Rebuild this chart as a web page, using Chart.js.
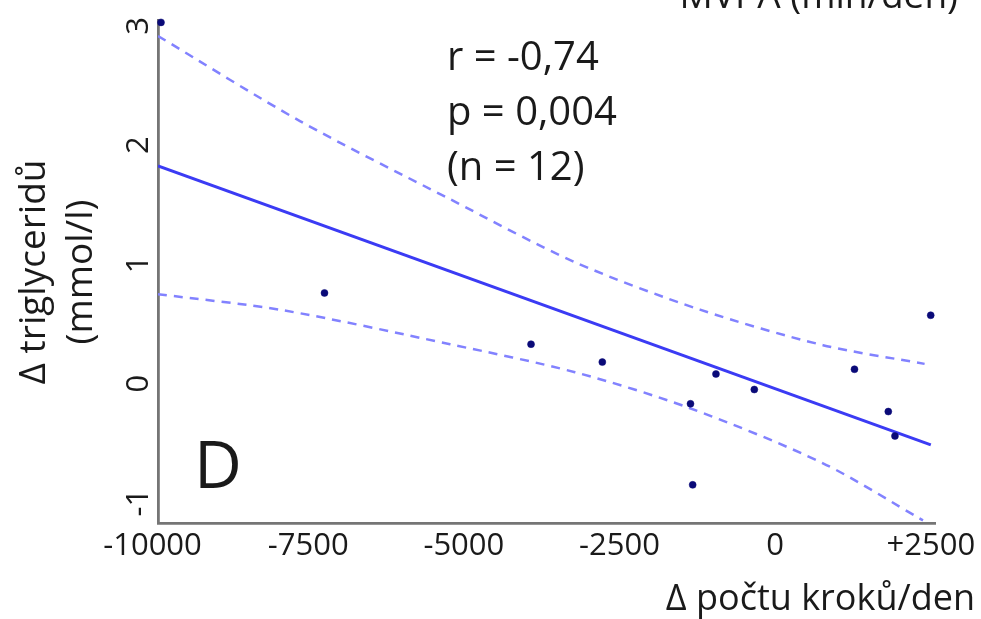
<!DOCTYPE html>
<html>
<head>
<meta charset="utf-8">
<script src="https://cdn.jsdelivr.net/npm/chart.js@4/dist/chart.umd.min.js"></script>
<style>
  html, body { margin: 0; padding: 0; background: #ffffff; }
  canvas { display: block; }
</style>
</head>
<body>
<canvas id="c" width="981" height="619"></canvas>
<script>
// Change in daily step count vs. change in triglycerides (n = 12)
const stepChange = [-9864, -7238, -3921, -2776, -951, -335, -1360, -1325, 1274, 1817, 1924, 2498];
const tgChange   = [3.03, 0.76, 0.33, 0.18, 0.08, -0.05, -0.17, -0.85, 0.12, -0.235, -0.44, 0.573];

// Regression line end points
const fitX = [-9912, 2500];
const fitY = [1.825, -0.515];

// 95% confidence band
const upperX = [-9912, -7632, -5222, -3215, -1207, 768, 2400];
const upperY = [2.916, 2.202, 1.547, 1.018, 0.62, 0.322, 0.165];
const lowerX = [-9912, -7905, -5222, -3215, -1368, 768, 2374];
const lowerY = [0.750, 0.615, 0.330, 0.095, -0.207, -0.669, -1.148];

// Axis ticks
const xTickValues = [-10000, -7500, -5000, -2500, 0, 2500];
const xTickLabels = ['-10000', '-7500', '-5000', '-2500', '0', '+2500'];
const yTickValues = [3, 2, 1, 0, -1];
const yTickLabels = ['3', '2', '1', '0', '-1'];

const xTitle = 'Δ počtu kroků/den';
const yTitle = ['Δ triglyceridů', '(mmol/l)'];
const statLines = ['r = -0,74', 'p = 0,004', '(n = 12)'];
const panelLetter = 'D';
const neighbourTitle = 'MVPA (min/den)';

const FONT = '"Open Sans", "DejaVu Sans", sans-serif';
const TEXT = '#1a1a1a';

const pts = (xs, ys) => xs.map((x, i) => ({ x, y: ys[i] }));

const textPlugin = {
  id: 'panelText',
  afterDraw(chart) {
    const ctx = chart.ctx;
    const xs = chart.scales.x, ys = chart.scales.y;
    ctx.save();
    ctx.fillStyle = TEXT;

    // x tick labels
    ctx.font = '31px ' + FONT;
    ctx.textAlign = 'center';
    ctx.textBaseline = 'alphabetic';
    xTickValues.forEach((v, i) => {
      ctx.fillText(xTickLabels[i], xs.getPixelForValue(v), 555);
    });

    // y tick labels, rotated
    yTickValues.forEach((v, i) => {
      ctx.save();
      ctx.translate(148, ys.getPixelForValue(v));
      ctx.rotate(-Math.PI / 2);
      ctx.textAlign = 'center';
      ctx.fillText(yTickLabels[i], 0, 0);
      ctx.restore();
    });

    // y axis title (two lines)
    ctx.font = '37px ' + FONT;
    [45, 92].forEach((bx, i) => {
      ctx.save();
      ctx.translate(bx, 272);
      ctx.rotate(-Math.PI / 2);
      ctx.textAlign = 'center';
      ctx.fillText(yTitle[i], 0, 0);
      ctx.restore();
    });

    // x axis title
    ctx.font = '36px ' + FONT;
    ctx.textAlign = 'right';
    ctx.fillText(xTitle, 975, 610);

    // title of the neighbouring panel, cut at the top edge
    ctx.font = '37px ' + FONT;
    ctx.fillText(neighbourTitle, 958, 8);

    // correlation statistics
    ctx.font = '40px ' + FONT;
    ctx.textAlign = 'left';
    [70, 125, 180].forEach((by, i) => ctx.fillText(statLines[i], 447, by));

    // panel letter
    ctx.font = '66px ' + FONT;
    ctx.fillText(panelLetter, 194, 488);

    ctx.restore();
  }
};

new Chart(document.getElementById('c'), {
  type: 'scatter',
  data: {
    datasets: [
      {
        label: 'data',
        data: pts(stepChange, tgChange),
        showLine: false,
        pointRadius: 3.5,
        pointBackgroundColor: '#0a0a78',
        pointBorderColor: '#0a0a78',
        pointBorderWidth: 0.5,
        clip: false,
        order: 0
      },
      {
        label: 'fit',
        data: pts(fitX, fitY),
        showLine: true,
        pointRadius: 0,
        borderColor: '#3b3bf4',
        borderWidth: 3,
        order: 1
      },
      {
        label: 'upper',
        data: pts(upperX, upperY),
        showLine: true,
        pointRadius: 0,
        tension: 0.3,
        borderColor: '#8282ff',
        borderWidth: 2.5,
        borderDash: [9, 7],
        order: 2
      },
      {
        label: 'lower',
        data: pts(lowerX, lowerY),
        showLine: true,
        pointRadius: 0,
        tension: 0.3,
        borderColor: '#8282ff',
        borderWidth: 2.5,
        borderDash: [9, 7],
        order: 2
      }
    ]
  },
  options: {
    responsive: false,
    animation: false,
    devicePixelRatio: 1,
    layout: { padding: { top: 20, right: 46, left: 0, bottom: 0 } },
    plugins: { legend: { display: false }, tooltip: { enabled: false } },
    scales: {
      x: {
        type: 'linear',
        position: 'bottom',
        min: -9912,
        max: 2567,
        grid: { display: false },
        ticks: { display: false },
        border: { display: true, color: '#757575', width: 2.8 },
        afterFit(s) { s.height = 96; }
      },
      y: {
        type: 'linear',
        position: 'left',
        min: -1.17,
        max: 3.05,
        grid: { display: false },
        ticks: { display: false },
        border: { display: true, color: '#757575', width: 2.8 },
        afterFit(s) { s.width = 158; }
      }
    }
  },
  plugins: [textPlugin]
});
</script>
</body>
</html>
